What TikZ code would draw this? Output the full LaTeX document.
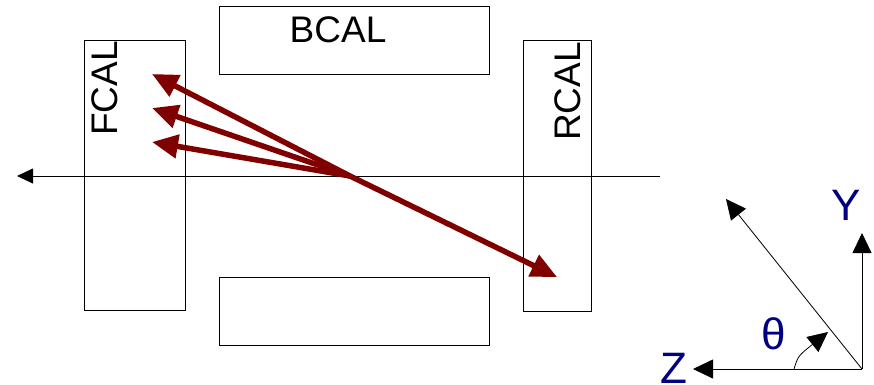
\documentclass[tikz,border=0pt]{standalone}
\usepackage{fontspec}
\setmainfont{Liberation Sans}
\usetikzlibrary{arrows.meta}
\definecolor{trackred}{RGB}{128,0,0}
\definecolor{axisblue}{RGB}{0,0,128}

\begin{document}
\begin{tikzpicture}[x=1pt,y=-1pt,
		calbox/.style={draw,line width=0.8pt,inner sep=0pt},
		callabel/.style={inner sep=0pt,font=\fontsize{37}{40}\selectfont},
		axislabel/.style={inner sep=0pt,text=axisblue,font=\fontsize{44}{46}\selectfont},
		track/.style={trackred,line width=5.5pt,-{Triangle[length=26pt,width=23pt]}},
		thin arrow/.style={line width=0.8pt,-{Triangle[length=16pt,width=15pt]}},
		axis arrow/.style={line width=0.8pt,-{Triangle[length=20pt,width=19pt]}}]
	\useasboundingbox (0,0) rectangle (874,384);
	% calorimeter blocks
	\node[calbox,minimum width=101pt,minimum height=270pt] (fcal) at (134.5,175) {};
	\node[calbox,minimum width=270pt,minimum height=68pt] (bcaltop) at (354,40) {};
	\node[calbox,minimum width=270pt,minimum height=68pt] (bcalbot) at (354,311) {};
	\node[calbox,minimum width=68pt,minimum height=271pt] (rcal) at (557,175.5) {};
	\node[callabel] at (338,30) {BCAL};
	\node[callabel,rotate=90] at (105,88.5) {FCAL};
	\node[callabel,rotate=90] at (568,91.5) {RCAL};
	% beam line
	\coordinate (beamR) at (660,176);
	\coordinate (beamL) at (17,176);
	\draw[thin arrow] (beamR) -- (beamL);
	% tracks from the vertex
	\coordinate (vtx) at (350,176);
	\coordinate (hitA) at (152,74);
	\coordinate (hitB) at (152,108);
	\coordinate (hitC) at (152,142);
	\coordinate (hitD) at (557,277);
	\foreach \h in {hitA,hitB,hitC,hitD}
		\draw[track] (vtx) -- (\h);
	% axes
	\coordinate (orig) at (862,369);
	\coordinate (ytip) at (862,233);
	\coordinate (ztip) at (693,369);
	\coordinate (dirtip) at (726,199);
	\coordinate (arcstart) at (794,369);
	\coordinate (arctip) at (828,332);
	\draw[axis arrow] (orig) -- (ytip);
	\draw[axis arrow] (orig) -- (ztip);
	\draw[axis arrow] (orig) -- (dirtip);
	\draw[axis arrow] (arcstart) .. controls (798,356) .. (arctip);
	\node[axislabel] (ylab) at (846,205) {Y};
	\node[axislabel] (zlab) at (674,368) {Z};
	\node[axislabel] (thetalab) at (774,334) {θ};
\end{tikzpicture}
\end{document}
